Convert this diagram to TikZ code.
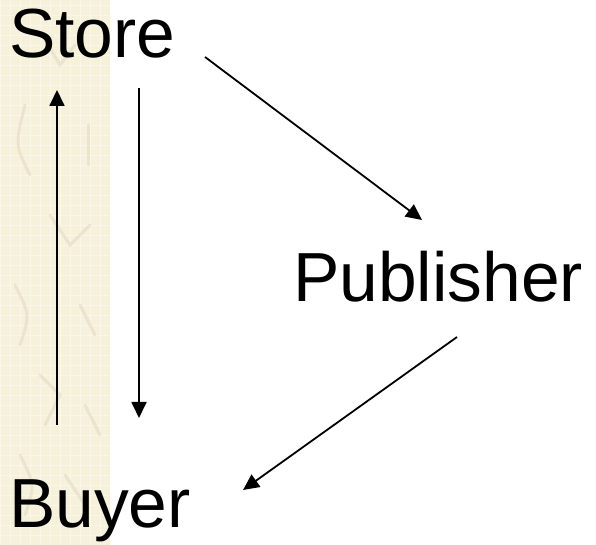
\documentclass[tikz,border=0pt]{standalone}
\usepackage{fontspec}
\setmainfont{Liberation Sans}
\usetikzlibrary{arrows.meta}
\definecolor{strip}{HTML}{F6F1DA}
\definecolor{doodle}{HTML}{E2DCC8}
\tikzset{
  lbl/.style={inner sep=0pt, anchor=base west, font=\fontsize{69.5}{72}\selectfont},
  arr/.style={line width=1.8pt, -{Triangle[length=16pt,width=15pt]}}
}
\begin{document}
\begin{tikzpicture}[x=1pt,y=1pt]
\useasboundingbox (0,0) rectangle (596,545);
\fill[white] (0,0) rectangle (596,545);
\fill[strip] (0,0) rectangle (110,545);
\draw[white, line width=0.6pt, opacity=0.45, step=10pt] (0,0) grid (110,545);
% faint doodles
\begin{scope}[doodle, line width=3pt, line cap=round, opacity=0.6]
\draw (45,505) -- (60,480) -- (75,500);
\draw (25,440) .. controls (15,400) .. (30,370);
\draw (88,420) -- (88,380);
\draw (50,330) -- (70,300) -- (90,320);
\draw (15,260) .. controls (30,230) .. (20,200);
\draw (80,240) -- (95,210);
\draw (40,170) -- (60,150) -- (45,120);
\draw (85,140) -- (100,110);
\draw (20,90) .. controls (35,60) .. (25,30);
\draw (65,70) -- (85,40);
\end{scope}
\node[lbl] (store) at (9,487) {Store};
\node[lbl] (publisher) at (293,243) {Publisher};
\node[lbl] (buyer) at (9,17) {Buyer};
\coordinate (upS) at (57,120);
\coordinate (upE) at (57,455);
\coordinate (dnS) at (139,457);
\coordinate (dnE) at (139,127);
\coordinate (d1S) at (205,488);
\coordinate (d1E) at (422,325);
\coordinate (d2S) at (457,208);
\coordinate (d2E) at (243,55);
\draw[arr] (upS) -- (upE);
\draw[arr] (dnS) -- (dnE);
\draw[arr] (d1S) -- (d1E);
\draw[arr] (d2S) -- (d2E);
\end{tikzpicture}
\end{document}
